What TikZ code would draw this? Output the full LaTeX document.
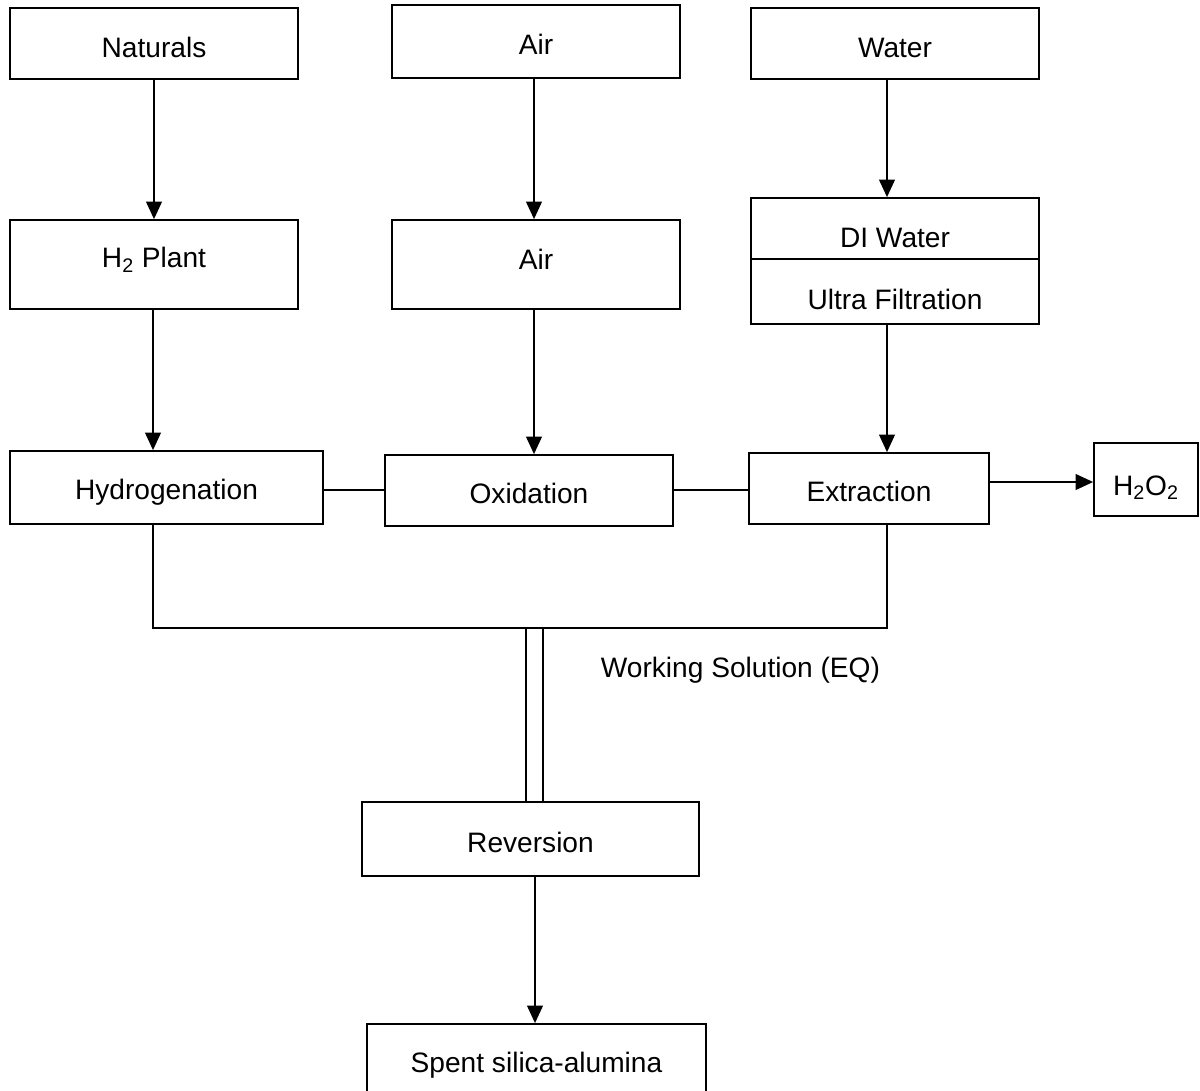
\documentclass[tikz,border=0pt]{standalone}
\usepackage{fontspec}
\setmainfont{Liberation Sans}
\usetikzlibrary{arrows.meta}
\begin{document}
\begin{tikzpicture}[x=0.02cm,y=-0.02cm,
  font=\fontsize{16}{19}\selectfont,
  line width=1pt,
  box/.style 2 args={draw, line width=1pt, inner sep=0pt,
    minimum width=#1*0.02cm, minimum height=#2*0.02cm,
    text height=14.9pt, text depth=0pt},
  % vertical placement of a label inside its box
  tpos/.style 2 args={text height=#1, text depth=#2},
  arr/.style={-{Triangle[length=10pt,width=9pt]}},
]
\clip (0,0) rectangle (1200,1091);
\fill[white] (0,0) rectangle (1200,1091);

% feed boxes
\node[box={288}{71}, tpos={15.5pt}{0pt}] (nat)   at (154,43.5)  {Naturals};
\node[box={288}{73}]                     (airA)  at (536,41.5)  {Air};
\node[box={288}{71}, tpos={16.1pt}{0pt}] (water) at (895,43.5)  {Water};

% second row
\node[box={288}{89}, tpos={11.5pt}{8pt}]   (h2p)  at (154,264.5) {H\textsubscript{2} Plant};
\node[box={288}{89}, tpos={11.5pt}{5.7pt}] (airB) at (536,264.5) {Air};
\node[box={288}{61}, tpos={21.7pt}{0pt}]   (di)   at (895,228.5) {DI Water};
\node[box={288}{65}, tpos={20.5pt}{0pt}]   (uf)   at (895,291.5) {Ultra Filtration};

% process row
\node[box={313}{73}, tpos={13.8pt}{0pt}] (hyd) at (166.5,487.5) {Hydrogenation};
\node[box={288}{71}]                     (oxi) at (529,490.5)  {Oxidation};
\node[box={240}{71}]                     (ext) at (869,488.5)  {Extraction};
\node[box={104}{73}, tpos={17.7pt}{0pt}] (hoo) at (1146,479.5) {H\textsubscript{2}O\textsubscript{2}};

% bottom
\node[box={337}{74}]  (rev)   at (530.5,839) {Reversion};
\node[box={339}{90}]  (spent) at (536.5,1069) {};
\node[tpos={11.5pt}{0pt}, inner sep=0pt] (spentlbl) at (536.5,1062.5) {Spent silica-alumina};

\node[tpos={11.5pt}{0pt}, inner sep=0pt, anchor=west] (ws) at (600,667) {Working Solution (EQ)};

% feed arrows
\draw[arr] (nat) -- (h2p);
\draw[arr] (airA.south -| 534,0) -- (airB.north -| 534,0);
\draw[arr] (water.south -| 887,0) -- (di.north -| 887,0);
\draw[arr] (h2p.south -| 153,0) -- (hyd.north -| 153,0);
\draw[arr] (airB.south -| 534,0) -- (oxi.north -| 534,0);
\draw[arr] (uf.south -| 887,0) -- (ext.north -| 887,0);

% process links
\draw (hyd.east |- 0,490) -- (oxi.west |- 0,490);
\draw (oxi.east |- 0,490) -- (ext.west |- 0,490);
\draw[arr] (ext.east |- 0,482) -- (hoo.west |- 0,482);

% working solution loop
\coordinate (busL) at (153,628);
\coordinate (busR) at (887,628);
\draw (hyd.south -| busL) -- (busL) -- (busR) -- (ext.south -| busR);
\draw (526,628) -- (rev.north -| 526,0);
\draw (543,628) -- (rev.north -| 543,0);

\draw[arr] (rev.south -| 535,0) -- (spent.north -| 535,0);
\end{tikzpicture}
\end{document}
